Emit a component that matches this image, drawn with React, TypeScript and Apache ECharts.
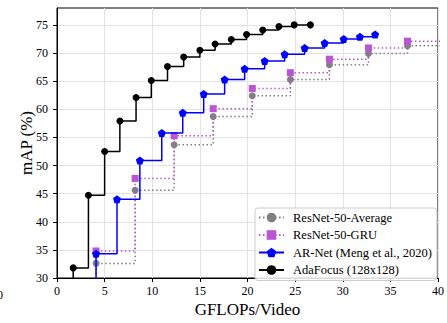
import React, { useEffect, useRef } from "react";
import * as echarts from "echarts";

const adaX = [1.7, 3.3, 5.0, 6.6, 8.3, 9.9, 11.6, 13.3, 15.0, 16.6, 18.3, 19.9, 21.6, 23.3, 24.9, 26.6];
const adaY = [31.8, 44.7, 52.5, 57.9, 62.1, 65.1, 67.6, 69.3, 70.5, 71.6, 72.4, 73.3, 74.1, 74.7, 75.0, 75.0];

const arX = [4.1, 6.3, 8.7, 11.0, 13.2, 15.4, 17.6, 19.7, 21.8, 23.9, 26.0, 28.1, 30.1, 31.8, 33.4];
const arY = [34.3, 44.0, 50.9, 55.8, 59.4, 62.7, 65.3, 67.2, 68.6, 69.8, 70.9, 71.8, 72.5, 72.9, 73.3];

const avgX = [4.1, 8.2, 12.3, 16.4, 20.5, 24.5, 28.6, 32.7, 36.8];
const avgY = [32.6, 45.6, 53.7, 58.7, 62.4, 65.3, 67.9, 69.9, 71.3];

const gruX = [4.1, 8.2, 12.3, 16.4, 20.5, 24.5, 28.6, 32.7, 36.8];
const gruY = [34.8, 47.7, 55.3, 60.1, 63.7, 66.5, 68.9, 70.9, 72.1];

const names = ["ResNet-50-Average", "ResNet-50-GRU", "AR-Net (Meng et al., 2020)", "AdaFocus (128x128)"];
const xTicks = [0, 5, 10, 15, 20, 25, 30, 35, 40];
const yTicks = [30, 35, 40, 45, 50, 55, 60, 65, 70, 75];

const FONT = "Liberation Serif";
const pentagon = "path://M0,-1 L0.951,-0.309 L0.588,0.809 L-0.588,0.809 L-0.951,-0.309 Z";

function build(xs: number[], ys: number[], extendRight: boolean) {
  const d: any[] = [{ value: [xs[0], 20], symbolSize: 0 }];
  xs.forEach((x, i) => d.push([x, ys[i]]));
  if (extendRight) d.push({ value: [41.5, ys[ys.length - 1]], symbolSize: 0 });
  return d;
}

export default function App() {
  const ref = useRef<HTMLDivElement>(null);
  useEffect(() => {
    const chart = echarts.init(ref.current!, null, { renderer: "svg" });
    chart.setOption({
      animation: false,
      grid: { left: 57, right: 8, top: 8, bottom: 40, show: true, borderColor: "#000", borderWidth: 1 },
      xAxis: {
        type: "value",
        min: 0,
        max: 40,
        interval: 5,
        name: "GFLOPs/Video",
        nameLocation: "middle",
        nameGap: 23,
        nameMoveOverlap: false,
        nameTextStyle: { fontFamily: FONT, fontSize: 17, color: "#000" },
        axisLine: { lineStyle: { color: "#000", width: 1 } },
        axisTick: { show: true, length: 4, lineStyle: { color: "#000" } },
        axisLabel: { fontFamily: FONT, fontSize: 12, color: "#000", margin: 7, customValues: xTicks },
        splitLine: { show: true, lineStyle: { color: "#e3e3e3", width: 1 } },
      },
      yAxis: {
        type: "value",
        min: 30,
        max: 78,
        interval: 5,
        name: "mAP (%)",
        nameLocation: "middle",
        nameGap: 22,
        nameMoveOverlap: false,
        nameTextStyle: { fontFamily: FONT, fontSize: 17, color: "#000" },
        axisLine: { show: true, lineStyle: { color: "#000", width: 1 } },
        axisTick: { show: true, length: 4, lineStyle: { color: "#000" }, customValues: yTicks },
        axisLabel: { fontFamily: FONT, fontSize: 12, color: "#000", margin: 9, customValues: yTicks },
        splitLine: { show: true, lineStyle: { color: "#e3e3e3", width: 1 } },
      },
      legend: {
        orient: "vertical",
        left: 255,
        top: 208,
        data: names,
        itemWidth: 25,
        itemHeight: 12,
        itemGap: 4.5,
        padding: [3, 5, 4, 3],
        borderColor: "#cccccc",
        borderWidth: 1,
        borderRadius: 3,
        backgroundColor: "rgba(255,255,255,0.85)",
        textStyle: { fontFamily: FONT, fontSize: 12.5, color: "#000", padding: [0, 0, 0, 4] },
      },
      graphic: [
        { type: "text", left: -3, top: 289, style: { text: "0", fontFamily: FONT, fontSize: 12, fill: "#000" } },
      ],
      series: [
        {
          name: names[0],
          type: "line",
          step: "end",
          data: build(avgX, avgY, true),
          symbol: "circle",
          symbolSize: 7,
          color: "#808080",
          itemStyle: { color: "#808080" },
          lineStyle: { color: "#808080", width: 1.5, type: [1.5, 2.5] },
          z: 2,
        },
        {
          name: names[1],
          type: "line",
          step: "end",
          data: build(gruX, gruY, true),
          symbol: "rect",
          symbolSize: 7,
          color: "#BA55D3",
          itemStyle: { color: "#BA55D3" },
          lineStyle: { color: "#BA55D3", width: 1.5, type: [1.5, 2.5] },
          z: 3,
        },
        {
          name: names[2],
          type: "line",
          step: "end",
          data: build(arX, arY, false),
          symbol: pentagon,
          symbolSize: 8,
          color: "#0000ff",
          itemStyle: { color: "#0000ff" },
          lineStyle: { color: "#0000ff", width: 1.5 },
          z: 4,
        },
        {
          name: names[3],
          type: "line",
          step: "end",
          data: build(adaX, adaY, false),
          symbol: "circle",
          symbolSize: 7,
          color: "#000",
          itemStyle: { color: "#000" },
          lineStyle: { color: "#000", width: 1.5 },
          z: 5,
        },
      ],
    });
    return () => chart.dispose();
  }, []);
  return <div ref={ref} style={{ width: 447, height: 323, position: "absolute", left: 0, top: 0 }} />;
}
